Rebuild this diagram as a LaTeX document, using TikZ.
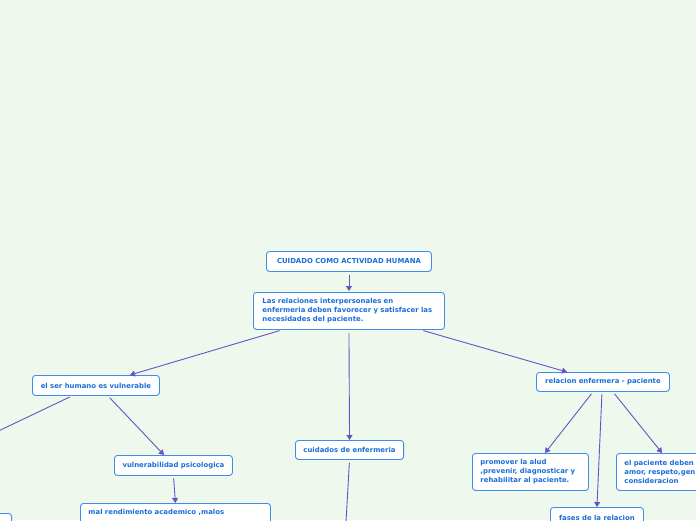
\documentclass[tikz,border=0pt]{standalone}
\usepackage{fontspec}
\setmainfont{DejaVu Sans}
\usetikzlibrary{positioning, arrows.meta}
\definecolor{mapbg}{HTML}{EEF8EC}
\definecolor{mapblue}{HTML}{1A6ED8}
\definecolor{mapedge}{HTML}{3D8EE8}
\definecolor{maparrow}{HTML}{6A52C6}

\begin{document}
\begin{tikzpicture}[
      x=1pt, y=-1pt,
      every node/.style={font=\bfseries\fontsize{6.9}{9}\selectfont, text=mapblue},
      topic/.style={draw=mapedge, fill=white, rounded corners=3pt, line width=0.9pt,
        inner xsep=8pt, inner ysep=3pt, anchor=north west, align=center},
      textbox/.style={topic, align=left, text width=#1},
      link/.style={-{Triangle[length=5pt,width=6pt]}, maparrow, line width=0.9pt,
        shorten <=2.5pt},
    ]
    \fill[mapbg] (0,0) rectangle (696,520);
    \useasboundingbox (0,0) rectangle (696,520);
    \clip (0,0) rectangle (696,520);

    \node[topic, minimum width=165pt, minimum height=20pt] (root) at (266,251)
      {CUIDADO COMO ACTIVIDAD HUMANA};

    \node[textbox=173pt, inner xsep=9pt, minimum height=37pt] (main) at (253,292)
      {Las relaciones interpersonales en\\%
       enfermeria deben favorecer y satisfacer las\\%
       necesidades del paciente.};

    \node[topic, minimum width=127pt, minimum height=20pt] (ser) at (32,375)
      {el ser humano es vulnerable};
    \node[topic, minimum width=108pt, minimum height=19pt] (cuidados) at (295,440)
      {cuidados de enfermeria};
    \node[topic, minimum width=133pt, minimum height=19pt] (relacion) at (536,372)
      {relacion enfermera - paciente};

    \node[topic, minimum width=118pt, minimum height=20pt] (vuln) at (114,455)
      {vulnerabilidad psicologica};
    \node[textbox=174pt, inner ysep=6pt, text depth=24pt] (mal) at (80,503)
      {mal rendimiento academico ,malos};
    \node[topic, anchor=north east, minimum width=370pt, minimum height=40pt] (fisica) at (12,513) {};

    \node[textbox=100pt, minimum height=37pt] (promover) at (472,453)
      {promover la alud\\%
       ,prevenir, diagnosticar y\\%
       rehabilitar al paciente.};
    \node[textbox=100pt, minimum height=37pt] (paciente) at (616,453)
      {el paciente deben\\%
       amor, respeto,gen\\%
       consideracion};
    \node[topic, minimum width=93pt, minimum height=20pt] (fases) at (550,507)
      {fases de la relacion};

    \coordinate (cuidadosbajo) at (343,575);

    % Connectors
    \draw[link, shorten <=3pt, shorten >=1pt] (root.south) -- (main.north);
    \draw[link] ([xshift=29pt]main.south west) -- ([xshift=98pt]ser.north west);
    \draw[link, shorten <=3pt] (main.south) -- (cuidados.north);
    \draw[link] ([xshift=-24pt]main.south east) -- ([xshift=31pt]relacion.north west);

    \draw[link] ([xshift=40pt]ser.south west) -- (fisica.north);
    \draw[link] ([xshift=76pt]ser.south west) -- ([xshift=50pt]vuln.north west);
    \draw[link] (vuln.south) -- (mal.north);
    \draw[link, shorten <=3pt] (cuidados.south) -- (cuidadosbajo);

    \draw[link] ([xshift=57pt]relacion.south west) -- ([xshift=73pt]promover.north west);
    \draw[link] ([xshift=66pt]relacion.south west) -- (fases.north);
    \draw[link] ([xshift=77pt]relacion.south west) -- ([xshift=46pt]paciente.north west);
  \end{tikzpicture}
\end{document}
